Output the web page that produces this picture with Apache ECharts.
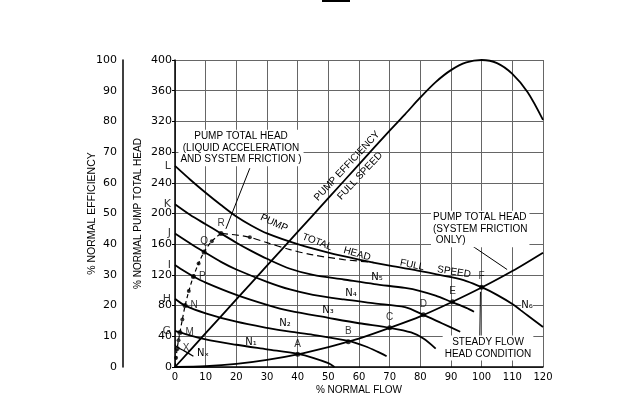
<!DOCTYPE html>
<html>
<head>
<meta charset="utf-8">
<script src="https://cdn.jsdelivr.net/npm/echarts@6/dist/echarts.min.js"></script>
<style>
html, body { margin: 0; padding: 0; background: #fff; }
#chart { width: 642px; height: 397px; }
</style>
</head>
<body>
<div id="chart"></div>
<script>
// [flow %, head %]
const fullSpeed = [[0,262],[5,244],[10,227],[15,211],[20,196],[25,184],[30,174],[40,160],[50,149],[60,140],[70,132],[80,125],[90,117],[95,112],[100,104],[105,94],[110,82],[115,67],[120,52]]
const speedN5 = [[0,212],[5,198],[10,186],[15,174],[20,162],[25,151],[30,141],[37.5,128],[45,120],[55,114],[65,108],[75,103],[80,99],[85,93],[90,85],[95,77],[97.5,72]]
const speedN4 = [[0,174],[5,161],[9.5,150],[15,137],[20,127],[30,111],[37.5,101],[45,94],[55,88],[65,83],[75,78],[81,68],[87,57],[93,46]]
const speedN3 = [[0,133],[3,125],[6,118],[10,110],[20,94],[30,81],[37.5,73],[50,64],[60,57],[70,51],[77,45],[81,37],[85,24]]
const speedN2 = [[0,89],[3.3,80],[10,70],[20,59],[30,51],[37.5,46],[45,42],[56.5,34],[62,27],[66,20],[69,14]]
const speedN1 = [[0,47],[1.6,45],[10,36],[20,29],[30,23],[40,17],[45,12],[50,5],[52,0]]
const speedNx = [[0,29],[0.7,26],[3,21],[6,14]]
const systemCurve = [[0,0],[10,1],[20,4],[30,9.3],[40,16.6],[50,26],[57,33.6],[60,37],[70,51],[80,66],[90,84],[100,103.5],[110,125],[120,149]]
// efficiency in %
const efficiency = [[0,0],[10,11],[20,22],[30,33],[40,44],[50,55],[60,66],[70,77],[75,82.3],[80,87.8],[85,92.8],[90,96.7],[95,99.2],[100,100],[105,99],[110,95.5],[115,89.5],[120,80.5]]
// pump head with liquid acceleration
const accelNear = [[0,0],[0.35,12],[0.7,24],[1.15,35],[1.6,45],[2.4,62],[3.3,80],[4.5,99],[6,118],[7.7,135],[9.5,150],[12,164],[15,174]]
const accelFar = [[15,174],[20,172],[24.4,169],[30,162],[37.5,153],[45,146],[55,140],[65,136]]
const accelDots = [[0.35,12],[1.15,35],[2.4,62],[4.5,99],[7.7,135],[12,164],[24.4,169]]

const pointNames = ['A','B','C','D','E','F','X','M','N','P','Q','R']
const pointFlow = [40,56.5,70,81,90.5,100,0.7,1.6,3.3,6,9.5,15]
const pointHead = [16.6,33,51,68,85,104,24,45,80,118,150,174]

const startNames = ['L','K','J','I','H','G']
const startHead = [262,212,174,133,89,47]

const font = '"Liberation Sans", Arial, sans-serif'

let chart = echarts.init(document.getElementById('chart'))

function curve(data, extra) {
  return Object.assign({
    type: 'line',
    data: data,
    smooth: 0.3,
    symbol: 'none',
    silent: true,
    lineStyle: { color: '#000', width: 1.8 },
    z: 3
  }, extra || {})
}

function txt(x, y, s, rot, extra) {
  return {
    type: 'text',
    x: x,
    y: y,
    rotation: (rot || 0) * Math.PI / 180,
    z: 50,
    style: Object.assign({
      text: s,
      fill: '#000',
      font: '10px ' + font,
      align: 'center',
      verticalAlign: 'middle'
    }, extra || {})
  }
}

function arrow(a, b) {
  return [{ coord: a }, { coord: b }]
}

let rightLabels = ['X', 'M', 'N', 'P']

let option = {
  animation: false,
  grid: { left: 175, right: 99, top: 60, bottom: 30, outerBoundsMode: 'none' },
  xAxis: {
    type: 'value',
    min: 0,
    max: 120,
    interval: 10,
    name: '% NORMAL FLOW',
    nameLocation: 'middle',
    nameGap: 18,
    nameMoveOverlap: false,
    nameTextStyle: { color: '#000', fontSize: 10, fontFamily: font },
    axisLine: { lineStyle: { color: '#000', width: 1.5 } },
    axisTick: { show: false },
    axisLabel: { color: '#000', fontSize: 10, fontFamily: 'DejaVu Sans', margin: 5 },
    splitLine: { lineStyle: { color: '#666', width: 1 } }
  },
  yAxis: [
    {
      type: 'value',
      min: 0,
      max: 400,
      interval: 40,
      position: 'left',
      name: '% NORMAL PUMP TOTAL HEAD',
      nameLocation: 'middle',
      nameRotate: 90,
      nameGap: 32,
      nameMoveOverlap: false,
      nameTextStyle: { color: '#000', fontSize: 10, fontFamily: font },
      axisLine: { show: true, lineStyle: { color: '#000', width: 1.5 } },
      axisTick: { show: true, length: 3, lineStyle: { color: '#000' } },
      axisLabel: { color: '#000', fontSize: 11, fontFamily: 'DejaVu Sans', margin: 3 },
      splitLine: { lineStyle: { color: '#666', width: 1 } }
    },
    {
      type: 'value',
      min: 0,
      max: 100,
      interval: 10,
      position: 'left',
      offset: 52,
      name: '% NORMAL EFFICIENCY',
      nameLocation: 'middle',
      nameRotate: 90,
      nameGap: 25,
      nameMoveOverlap: false,
      nameTextStyle: { color: '#000', fontSize: 10.5, fontFamily: font },
      axisLine: { show: true, lineStyle: { color: '#000', width: 1.5 } },
      axisTick: { show: false },
      axisLabel: { color: '#000', fontSize: 11, fontFamily: 'DejaVu Sans', margin: 6 },
      splitLine: { show: false }
    }
  ],
  series: [
    curve(fullSpeed),
    curve(speedN5),
    curve(speedN4),
    curve(speedN3),
    curve(speedN2),
    curve(speedN1),
    curve(speedNx, { lineStyle: { color: '#000', width: 1.2 } }),
    curve(systemCurve, {
      markLine: {
        silent: true,
        symbol: ['none', 'arrow'],
        symbolSize: [0, 7],
        label: { show: false },
        lineStyle: { color: '#000', width: 1, type: 'solid' },
        data: [
          arrow([24.4, 259], [16.6, 180]),
          arrow([95, 163], [108.3, 127]),
          arrow([99.4, 40], [99.6, 98])
        ]
      }
    }),
    curve(efficiency, { yAxisIndex: 1 }),
    curve(accelNear, { lineStyle: { color: '#000', width: 1.2, type: [4, 3] } }),
    curve(accelFar, { lineStyle: { color: '#000', width: 1.2, type: [7, 4] } }),
    {
      type: 'scatter',
      data: accelDots,
      symbolSize: 4,
      itemStyle: { color: '#000' },
      silent: true,
      z: 5
    },
    {
      type: 'scatter',
      data: pointNames.map((n, i) => ({
        name: n,
        value: [pointFlow[i], pointHead[i]],
        label: { position: rightLabels.includes(n) ? 'right' : 'top' }
      })),
      symbolSize: 5,
      itemStyle: { color: '#000' },
      silent: true,
      z: 6,
      label: {
        show: true,
        formatter: '{b}',
        distance: 3,
        color: '#000',
        fontSize: 10,
        fontFamily: font
      }
    },
    {
      type: 'scatter',
      data: startNames.map((n, i) => ({ name: n, value: [0, startHead[i]] })),
      symbolSize: 0,
      silent: true,
      label: {
        show: true,
        position: 'left',
        formatter: '{b}',
        distance: 4,
        color: '#000',
        fontSize: 11,
        fontFamily: 'DejaVu Sans'
      }
    }
  ],
  graphic: [
    { type: 'rect', shape: { x: 322, y: 0, width: 28, height: 2 }, style: { fill: '#000' } },
    txt(241, 148, 'PUMP TOTAL HEAD\n(LIQUID ACCELERATION\nAND SYSTEM FRICTION )', 0,
      { lineHeight: 11.5, backgroundColor: '#fff', padding: [1, 2] }),
    txt(431, 229, 'PUMP TOTAL HEAD\n(SYSTEM FRICTION\n ONLY)', 0,
      { align: 'left', lineHeight: 11.5, backgroundColor: '#fff', padding: [1, 2] }),
    txt(488, 348, 'STEADY FLOW\nHEAD CONDITION', 0,
      { lineHeight: 11.5, backgroundColor: '#fff', padding: [1, 2] }),
    txt(347, 166, 'PUMP EFFICIENCY', 47),
    txt(360, 176, 'FULL SPEED', 47),
    txt(274, 223, 'PUMP', -25),
    txt(317, 242, 'TOTAL', -21),
    txt(357, 254, 'HEAD', -16),
    txt(412, 265, 'FULL', -12),
    txt(454, 272, 'SPEED', -9),
    txt(377, 277, 'N₅', 0, { font: '10px "DejaVu Sans"' }),
    txt(351, 293, 'N₄', 0, { font: '10px "DejaVu Sans"' }),
    txt(328, 310, 'N₃', 0, { font: '10px "DejaVu Sans"' }),
    txt(285, 323, 'N₂', 0, { font: '10px "DejaVu Sans"' }),
    txt(251, 342, 'N₁', 0, { font: '10px "DejaVu Sans"' }),
    txt(203, 353, 'Nₓ', 0, { font: '10px "DejaVu Sans"' }),
    txt(527, 305, 'N₆', 0, { font: '10px "DejaVu Sans"', backgroundColor: '#fff' })
  ]
}

option && chart.setOption(option)
</script>
</body>
</html>
